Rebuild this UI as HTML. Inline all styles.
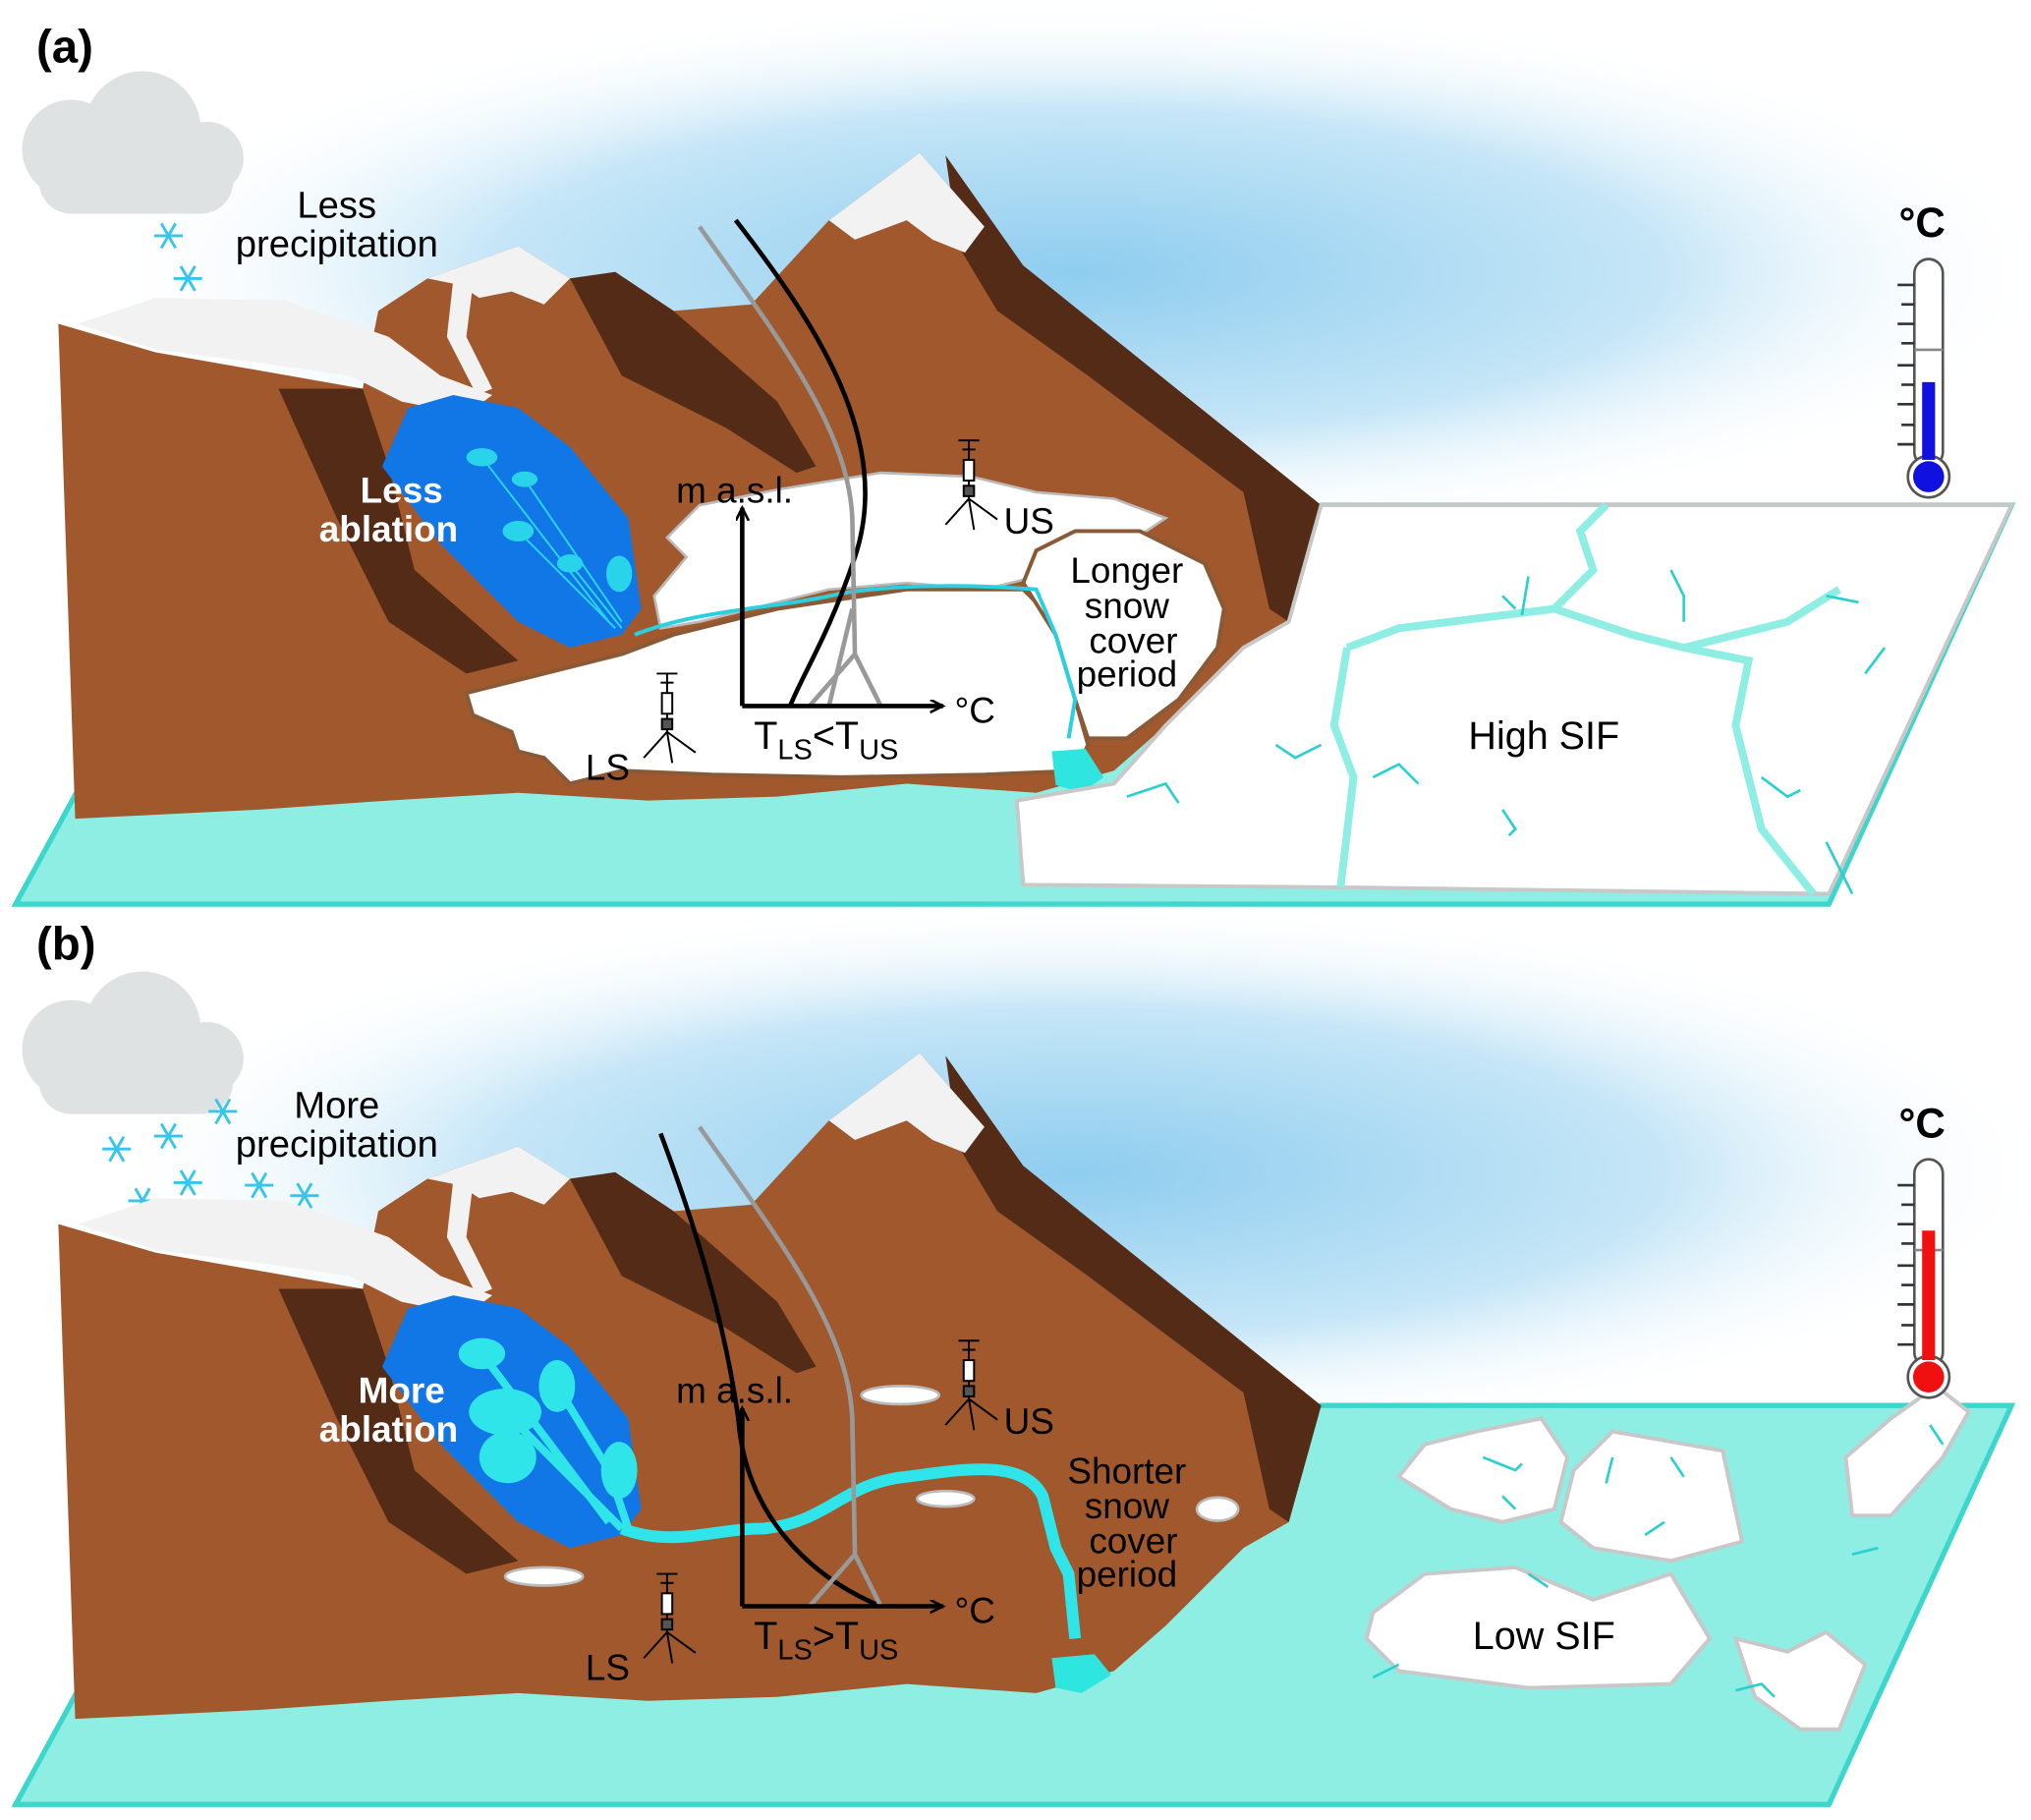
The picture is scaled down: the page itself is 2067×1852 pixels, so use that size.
<!DOCTYPE html>
<html><head><meta charset="utf-8"><style>
html,body{margin:0;padding:0;background:#fff;}
svg{display:block;}
text{font-family:"Liberation Sans",Arial,sans-serif;}
</style></head><body>
<svg width="2067" height="1852" viewBox="0 0 1568 1405" xmlns="http://www.w3.org/2000/svg">
<defs>
<radialGradient id="sky" cx="0.5" cy="0.5" r="0.5">
<stop offset="0" stop-color="#8fcdef"/><stop offset="0.6" stop-color="#c6e6f7"/><stop offset="1" stop-color="#ffffff" stop-opacity="0"/>
</radialGradient>
<marker id="ar" markerWidth="12" markerHeight="12" refX="10" refY="5" orient="auto" markerUnits="userSpaceOnUse">
<path d="M0,0 L10,5 L0,10" fill="none" stroke="#000" stroke-width="2"/></marker>
<g id="flake"><g stroke="#35c6ea" stroke-width="2.2">
<line x1="-11" y1="0" x2="11" y2="0"/><line x1="-5.5" y1="-9.5" x2="5.5" y2="9.5"/><line x1="5.5" y1="-9.5" x2="-5.5" y2="9.5"/></g></g>
<g id="cloud"><g fill="#dfe2e2">
<circle cx="55" cy="115" r="38"/><circle cx="110" cy="100" r="45"/><circle cx="160" cy="122" r="28"/><rect x="30" y="115" width="150" height="50" rx="25"/></g></g>
<g id="tower" stroke="#000" stroke-width="1.5" fill="none">
<line x1="0" y1="-45" x2="0" y2="0"/><line x1="-8" y1="-45" x2="8" y2="-45"/><line x1="-5" y1="-38" x2="5" y2="-38"/>
<rect x="-4" y="-30" width="8" height="16" fill="#fff"/><rect x="-4" y="-10" width="8" height="8" fill="#555"/>
<line x1="0" y1="0" x2="-18" y2="20"/><line x1="0" y1="0" x2="22" y2="16"/><line x1="0" y1="0" x2="4" y2="24"/></g>
<g id="mount">
<path d="M58,632 L45,250 L120,272 L280,300 L292,240 L330,215 L400,190 L440,215 L475,210 L520,240 L580,235 L640,170 L710,118 L760,175 L790,205 L1020,390 L995,480 L960,500 L900,560 L860,595 L800,612 L700,605 L600,615 L500,618 L400,612 L300,618 L200,625 Z" fill="#a0582c"/>
<path d="M440,215 L475,210 L520,240 L600,310 L630,360 L615,365 L560,330 L480,290 Z" fill="#532b17"/>
<path d="M730,120 L790,205 L1020,390 L995,480 L980,470 L960,380 L840,290 L770,240 L740,190 Z" fill="#532b17"/>
<path d="M215,300 L280,300 L300,360 L320,440 L400,510 L360,520 L300,480 L260,400 Z" fill="#532b17"/>
<path d="M640,170 L710,118 L760,175 L745,195 L720,185 L700,170 L660,185 Z" fill="#f2f2f2"/>
<path d="M330,215 L400,190 L440,215 L420,235 L395,225 L370,230 L355,220 Z" fill="#f2f2f2"/>
<path d="M60,250 L120,230 L220,232 L300,260 L340,290 L380,305 L360,320 L310,310 L270,290 L200,280 L120,270 Z" fill="#f2f2f2"/>
<path d="M350,215 L365,220 L360,260 L380,300 L368,305 L345,260 Z" fill="#f2f2f2"/>
</g>
<g id="sea"><path d="M12,698 L60,610 L1020,390 L1553,390 L1412,698 Z" fill="#8eeee4" stroke="#3dd6cc" stroke-width="4"/></g>
<g id="thermo">
<rect x="1478" y="200" width="22" height="160" rx="11" fill="#fff" stroke="#555" stroke-width="2"/>
<circle cx="1489" cy="368" r="16" fill="#fff" stroke="#555" stroke-width="2"/>
<g stroke="#333" stroke-width="2"><line x1="1465" y1="220" x2="1478" y2="220"/><line x1="1468" y1="235" x2="1478" y2="235"/><line x1="1465" y1="250" x2="1478" y2="250"/><line x1="1468" y1="265" x2="1478" y2="265"/><line x1="1465" y1="282" x2="1478" y2="282"/><line x1="1468" y1="297" x2="1478" y2="297"/><line x1="1465" y1="312" x2="1478" y2="312"/><line x1="1468" y1="328" x2="1478" y2="328"/><line x1="1465" y1="343" x2="1478" y2="343"/></g>
<line x1="1478" y1="270" x2="1500" y2="270" stroke="#888" stroke-width="2"/>
<text x="1466" y="183" font-size="32" font-weight="bold">°C</text>
</g>
</defs>

<!-- PANEL A -->
<ellipse cx="830" cy="210" rx="760" ry="210" fill="url(#sky)"/>
<text x="28" y="48" font-size="36" font-weight="bold">(a)</text>
<use href="#cloud"/>
<use href="#flake" x="130" y="182"/><use href="#flake" x="145" y="215"/>
<text x="260" y="168" font-size="29" text-anchor="middle">Less</text>
<text x="260" y="198" font-size="29" text-anchor="middle">precipitation</text>
<use href="#sea"/>
<use href="#mount"/>
<!-- glacier -->
<path d="M315,315 L350,305 L400,315 L440,345 L485,400 L495,470 L480,490 L440,500 L400,480 L340,420 L295,360 Z" fill="#1277e6"/>
<g fill="#29d4ea"><ellipse cx="372" cy="353" rx="12" ry="7"/><ellipse cx="405" cy="370" rx="10" ry="6"/><ellipse cx="400" cy="410" rx="12" ry="8"/><ellipse cx="440" cy="435" rx="10" ry="7"/><ellipse cx="478" cy="443" rx="10" ry="14"/></g>
<path d="M372,353 L470,480 M405,370 L480,480 M400,410 L475,485 M440,435 L480,485" stroke="#29d4ea" stroke-width="1.5" fill="none"/>
<text x="310" y="388" font-size="28" font-weight="bold" fill="#fff" text-anchor="middle">Less</text>
<text x="300" y="418" font-size="28" font-weight="bold" fill="#fff" text-anchor="middle">ablation</text>
<!-- snow fields -->
<path d="M505,460 L530,430 L515,415 L540,390 L600,378 L680,365 L750,368 L800,380 L860,385 L900,400 L870,420 L820,440 L760,455 L700,450 L640,455 L580,470 L540,480 L510,485 Z" fill="#fff" stroke="#bbb" stroke-width="2"/>
<path d="M360,535 L400,525 L480,505 L520,490 L600,470 L700,455 L790,455 L820,485 L830,540 L840,575 L830,595 L760,598 L650,600 L550,598 L480,595 L440,605 L420,585 L400,580 L395,565 L365,552 Z" fill="#fff" stroke="#8a5a36" stroke-width="3"/>
<path d="M790,450 L800,425 L830,410 L880,410 L930,435 L945,470 L940,500 L910,540 L870,570 L840,570 L830,540 L815,490 Z" fill="#fff" stroke="#8a5a36" stroke-width="3"/>
<path d="M490,490 C540,470 600,470 650,458 C700,450 760,452 800,455 L815,490 L830,540 L825,570" stroke="#2ad0e0" stroke-width="3" fill="none"/>
<path d="M812,580 L838,578 L852,600 L835,612 L815,606 Z" fill="#2fe5e0"/>
<text x="870" y="450" font-size="28" text-anchor="middle">Longer</text>
<text x="870" y="477" font-size="28" text-anchor="middle">snow</text>
<text x="875" y="504" font-size="28" text-anchor="middle">cover</text>
<text x="870" y="530" font-size="28" text-anchor="middle">period</text>
<!-- ice -->
<path d="M1020,390 L1553,390 L1412,690 L1035,685 L790,683 L785,618 L860,605 L900,560 L960,500 L995,480 Z" fill="#fff" stroke="#c8c8c8" stroke-width="3"/>
<g stroke="#8eeee4" stroke-width="6" fill="none">
<path d="M1040,500 L1030,560 L1045,600 L1035,685"/><path d="M1040,500 L1080,485 L1120,480 L1200,470 L1260,490 L1300,500 L1350,510 L1340,560 L1360,640 L1400,690"/><path d="M1200,470 L1230,440 L1220,410 L1240,390"/><path d="M1300,500 L1380,480 L1420,455"/>
</g>
<g stroke="#2ad0d0" stroke-width="2" fill="none">
<path d="M870,615 L900,605 L910,620"/><path d="M985,575 L1000,585 L1020,575"/><path d="M1060,600 L1080,590 L1095,605"/><path d="M1160,625 L1170,640 L1165,645"/><path d="M1180,445 L1175,475"/><path d="M1290,440 L1300,460 L1300,480"/><path d="M1360,600 L1380,615 L1390,610"/><path d="M1410,650 L1420,670 L1430,690"/><path d="M1410,460 L1435,465"/><path d="M1440,520 L1455,500"/><path d="M1160,460 L1170,470"/></g>
<text x="1192" y="578" font-size="30" text-anchor="middle">High SIF</text>
<!-- graph a -->
<path d="M568,170 C630,250 690,340 660,430 C640,490 620,520 610,545" stroke="#000" stroke-width="3.5" fill="none"/>
<path d="M540,175 C600,260 655,330 658,400 L660,505 L625,545 M660,505 L680,545 M658,470 L640,545" stroke="#999" stroke-width="3.5" fill="none"/>
<line x1="573" y1="545" x2="573" y2="392" stroke="#000" stroke-width="3.5" marker-end="url(#ar)"/>
<line x1="573" y1="545" x2="728" y2="545" stroke="#000" stroke-width="3.5" marker-end="url(#ar)"/>
<text x="522" y="388" font-size="28">m a.s.l.</text>
<text x="737" y="558" font-size="28">°C</text>
<text x="582" y="578" font-size="30">T<tspan font-size="22" dy="8">LS</tspan><tspan dy="-8">&lt;T</tspan><tspan font-size="22" dy="8">US</tspan></text>
<use href="#tower" x="515" y="565"/><text x="452" y="602" font-size="28">LS</text>
<use href="#tower" x="748" y="385"/><text x="775" y="412" font-size="28">US</text>
<use href="#thermo"/>
<rect x="1484" y="295" width="10" height="60" fill="#1010e0"/><circle cx="1489" cy="368" r="12" fill="#1010e0"/>

<!-- PANEL B -->
<g transform="translate(0,695)">
<ellipse cx="830" cy="210" rx="760" ry="210" fill="url(#sky)"/>
<text x="28" y="46" font-size="36" font-weight="bold">(b)</text>
<use href="#cloud"/>
<use href="#flake" x="90" y="192"/><use href="#flake" x="130" y="182"/><use href="#flake" x="172" y="163"/><use href="#flake" x="145" y="218"/><use href="#flake" x="110" y="232"/><use href="#flake" x="200" y="220"/><use href="#flake" x="235" y="228"/><use href="#flake" x="163" y="248"/><use href="#flake" x="220" y="268"/>
<text x="260" y="168" font-size="29" text-anchor="middle">More</text>
<text x="260" y="198" font-size="29" text-anchor="middle">precipitation</text>
<use href="#sea"/>
<use href="#mount"/>
<path d="M315,315 L350,305 L400,315 L440,345 L485,400 L495,470 L480,490 L440,500 L400,480 L340,420 L295,360 Z" fill="#1277e6"/>
<g fill="#2fe5ea"><ellipse cx="372" cy="350" rx="18" ry="12"/><ellipse cx="390" cy="395" rx="28" ry="18"/><ellipse cx="392" cy="430" rx="22" ry="20"/><ellipse cx="430" cy="375" rx="14" ry="20"/><ellipse cx="478" cy="440" rx="14" ry="22"/></g>
<path d="M372,350 L470,480 M390,395 L480,485 M430,375 L470,440 L485,485" stroke="#2fe5ea" stroke-width="6" fill="none"/>
<path d="M480,485 C520,500 550,485 590,485 C640,480 650,450 700,445 C740,440 790,430 805,460 L815,500 L825,520 L830,570" stroke="#2fe5ea" stroke-width="9" fill="none"/>
<path d="M812,585 L845,582 L858,598 L835,612 L815,608 Z" fill="#2fe5e0"/>
<text x="310" y="388" font-size="28" font-weight="bold" fill="#fff" text-anchor="middle">More</text>
<text x="300" y="418" font-size="28" font-weight="bold" fill="#fff" text-anchor="middle">ablation</text>
<g fill="#fff" stroke="#bbb" stroke-width="2"><ellipse cx="695" cy="382" rx="30" ry="7"/><ellipse cx="730" cy="462" rx="22" ry="6"/><ellipse cx="940" cy="470" rx="16" ry="9"/><ellipse cx="420" cy="522" rx="30" ry="7"/></g>
<text x="870" y="450" font-size="28" text-anchor="middle">Shorter</text>
<text x="870" y="477" font-size="28" text-anchor="middle">snow</text>
<text x="875" y="504" font-size="28" text-anchor="middle">cover</text>
<text x="870" y="530" font-size="28" text-anchor="middle">period</text>
<g fill="#fff" stroke="#c8c8c8" stroke-width="3">
<path d="M1080,445 L1100,420 L1140,410 L1190,400 L1210,430 L1200,470 L1160,480 L1120,470 Z"/>
<path d="M1215,440 L1245,410 L1330,425 L1345,495 L1290,510 L1230,500 L1205,480 Z"/>
<path d="M1060,550 L1100,520 L1170,515 L1230,540 L1290,520 L1320,570 L1290,605 L1180,608 L1080,595 L1055,570 Z"/>
<path d="M1425,430 L1460,400 L1495,375 L1520,395 L1500,430 L1460,475 L1430,475 Z"/>
<path d="M1340,570 L1380,580 L1410,565 L1440,590 L1420,640 L1390,640 L1355,615 Z"/>
</g>
<g stroke="#2ad0d0" stroke-width="2" fill="none">
<path d="M1145,430 L1170,440 L1175,435"/><path d="M1160,460 L1170,470"/><path d="M1245,430 L1240,450"/><path d="M1290,430 L1300,445"/><path d="M1270,490 L1285,480"/><path d="M1060,600 L1080,590"/><path d="M1180,520 L1195,530"/><path d="M1340,610 L1360,605 L1370,615"/><path d="M1430,505 L1450,500"/><path d="M1490,405 L1500,420"/></g>
<text x="1192" y="578" font-size="30" text-anchor="middle">Low SIF</text>
<path d="M510,180 C540,260 560,330 570,400 C575,470 620,520 680,545" stroke="#000" stroke-width="3.5" fill="none"/>
<path d="M540,175 C600,260 655,330 658,400 L660,505 L625,545 M660,505 L680,545" stroke="#999" stroke-width="3.5" fill="none"/>
<line x1="573" y1="545" x2="573" y2="392" stroke="#000" stroke-width="3.5" marker-end="url(#ar)"/>
<line x1="573" y1="545" x2="728" y2="545" stroke="#000" stroke-width="3.5" marker-end="url(#ar)"/>
<text x="522" y="388" font-size="28">m a.s.l.</text>
<text x="737" y="558" font-size="28">°C</text>
<text x="582" y="578" font-size="30">T<tspan font-size="22" dy="8">LS</tspan><tspan dy="-8">&gt;T</tspan><tspan font-size="22" dy="8">US</tspan></text>
<use href="#tower" x="515" y="565"/><text x="452" y="602" font-size="28">LS</text>
<use href="#tower" x="748" y="385"/><text x="775" y="412" font-size="28">US</text>
<use href="#thermo"/>
<rect x="1484" y="255" width="10" height="100" fill="#f01010"/><circle cx="1489" cy="368" r="12" fill="#f01010"/>
</g>
</svg>
</body></html>
